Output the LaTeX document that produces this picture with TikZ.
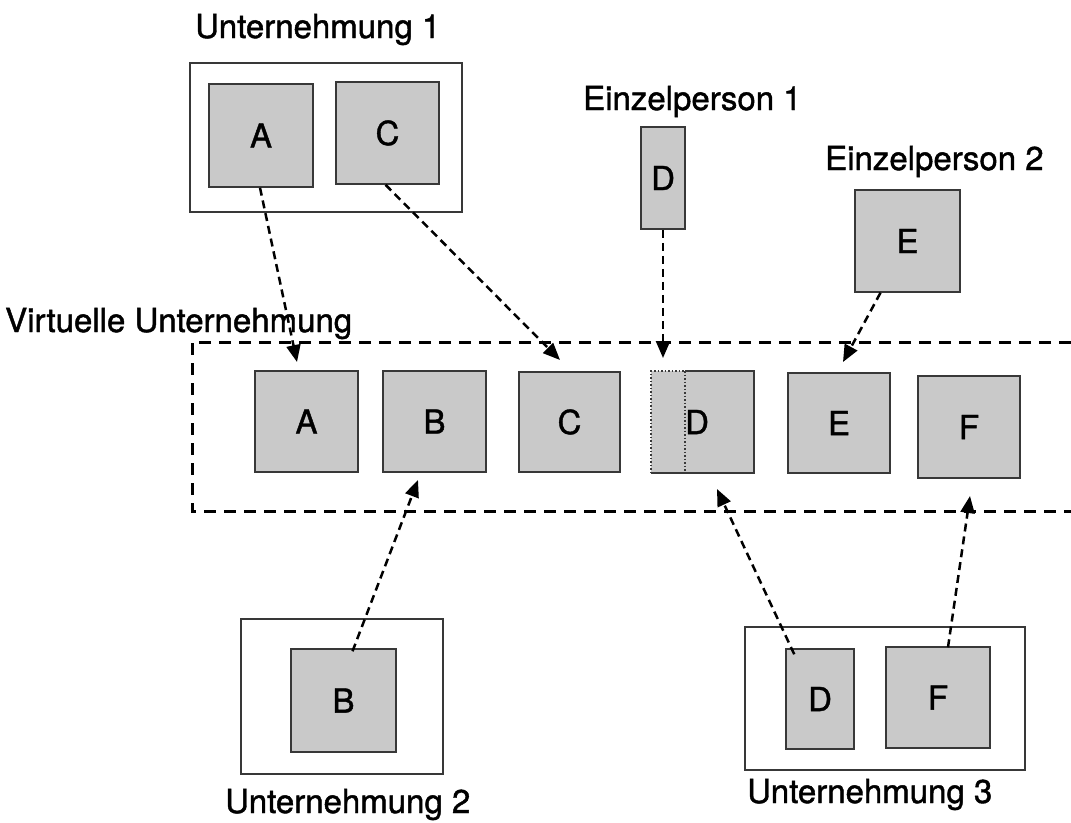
\documentclass[tikz,border=0pt]{standalone}
\usepackage{fontspec}
\setmainfont{TeX Gyre Heros}[FakeBold=1.3]
\usetikzlibrary{arrows.meta}
\definecolor{stipple}{rgb}{0.79,0.79,0.79}
\definecolor{edge}{rgb}{0.22,0.22,0.22}
\begin{document}
\begin{tikzpicture}[x=1pt,y=-1pt,
  every node/.style={font=\fontsize{33}{38}\selectfont, inner sep=0pt},
  unit/.style={draw=edge, line width=1.5pt, fill=stipple},
  firm/.style={draw=edge, line width=1.4pt},
  caption/.style={anchor=base west},
  link/.style={line width=2.5pt, dash pattern=on 8pt off 5pt,
    -{Triangle[length=17pt,width=14pt]}},
  border/.style={line width=3pt, dash pattern=on 12pt off 8pt}]
\useasboundingbox (0,0) rectangle (1071,822);

% Unternehmung 1
\node[firm, minimum width=272, minimum height=149] (U1) at (326,137.5) {};
\node[unit, minimum width=104, minimum height=103] (A1) at (261,135.5) {A};
\node[unit, minimum width=103, minimum height=102] (C1) at (387.5,133) {C};
\node[caption] (L1) at (195,38) {Unternehmung 1};

% Einzelpersonen
\node[unit, minimum width=44, minimum height=102] (D1) at (663,178) {D};
\node[caption] (L4) at (583,110) {Einzelperson 1};
\node[unit, minimum width=105, minimum height=102] (E1) at (907.5,241) {E};
\node[caption] (L5) at (825,170) {Einzelperson 2};

% Virtuelle Unternehmung
\node[caption] (LV) at (5,332) {Virtuelle Unternehmung};
\draw[border] (1071,342) -- (192,342) -- (192,511) -- (1071,511);
\node[unit, minimum width=103, minimum height=101] (vA) at (306.5,421.5) {A};
\node[unit, minimum width=103, minimum height=101] (vB) at (434.5,421.5) {B};
\node[unit, minimum width=101, minimum height=100] (vC) at (569.5,422) {C};
\node[fill=stipple, minimum width=103, minimum height=102] (vD) at (702.5,422) {};
\node (vDt) at (697,422) {D};
\draw[edge, line width=1.5pt] (685,371) -- (754,371) -- (754,473) -- (651,473);
\draw[edge, line width=1.5pt, dotted] (651,473) -- (651,371) -- (685,371);
\draw[edge, line width=1.5pt, dotted] (685,371) -- (685,473);
\node[unit, minimum width=102, minimum height=100] (vE) at (839,423) {E};
\node[unit, minimum width=102, minimum height=102] (vF) at (969,427) {F};

% Unternehmung 2
\node[firm, minimum width=202, minimum height=155] (U2) at (342,696.5) {};
\node[unit, minimum width=105, minimum height=103] (B2) at (343.5,700.5) {B};
\node[caption] (L2) at (225,813) {Unternehmung 2};

% Unternehmung 3
\node[firm, minimum width=280, minimum height=143] (U3) at (885,698.5) {};
\node[unit, minimum width=68, minimum height=100] (D3) at (820,699) {D};
\node[unit, minimum width=104, minimum height=101] (F3) at (938,697.5) {F};
\node[caption] (L3) at (747,803) {Unternehmung 3};

% arrow tips
\coordinate (tA) at (297,362);
\coordinate (tC) at (560,360);
\coordinate (tD) at (663,358);
\coordinate (tE) at (843,362);
\coordinate (tB) at (418,480);
\coordinate (tD3) at (717,489);
\coordinate (tF) at (970,496);

% contributions to the virtual enterprise
\draw[link] ([xshift=-1]A1.south) -- (tA);
\draw[link] ([xshift=-2]C1.south) -- (tC);
\draw[link] (D1.south) -- (tD);
\draw[link] ([xshift=-27]E1.south) -- (tE);
\draw[link] ([xshift=9,yshift=-3]B2.north) -- (tB);
\draw[link] ([xshift=9,yshift=-6]D3.north west) -- (tD3);
\draw[link] ([xshift=10,yshift=-1]F3.north) -- (tF);
\end{tikzpicture}
\end{document}
